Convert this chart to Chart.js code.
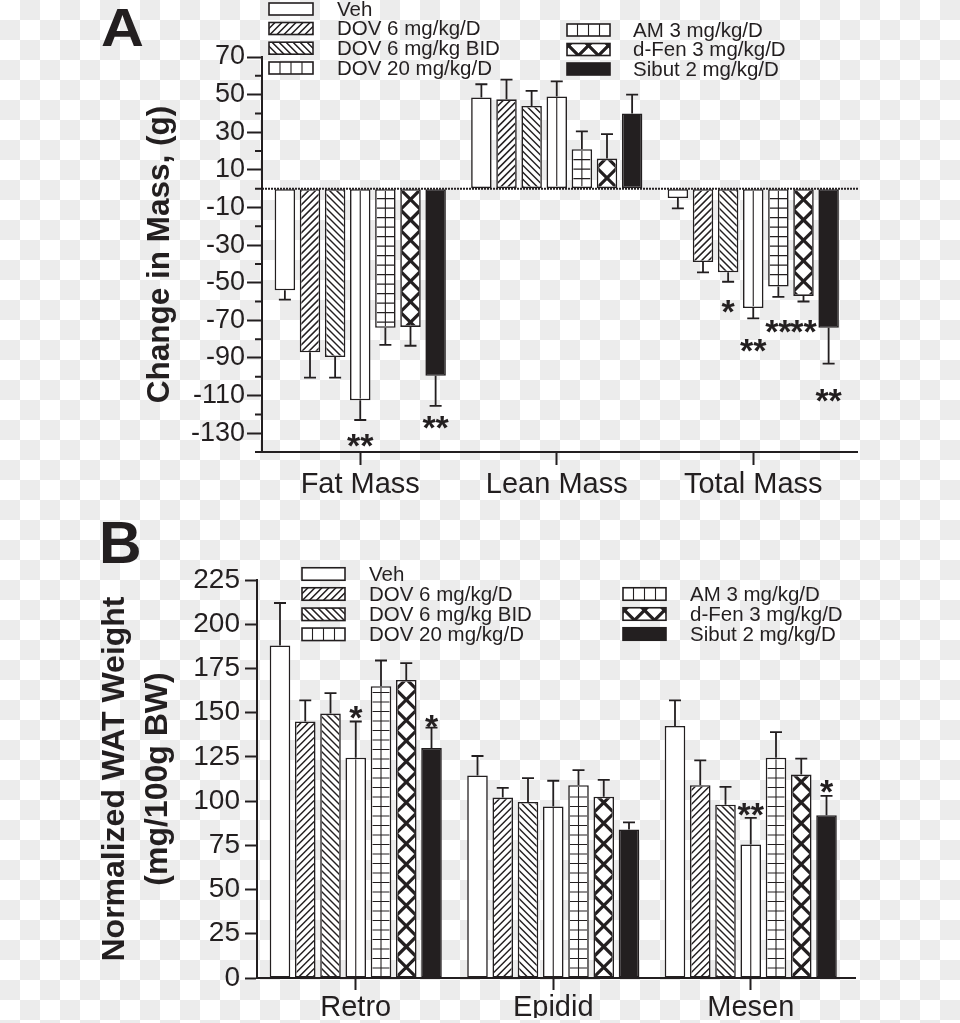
<!DOCTYPE html>
<html><head><meta charset="utf-8">
<script src="https://cdn.jsdelivr.net/npm/chart.js@4.4.1/dist/chart.umd.min.js"></script>
<style>
html,body{margin:0;padding:0;}
body{width:960px;height:1023px;position:relative;overflow:hidden;
 background: repeating-conic-gradient(#ececec 0 25%, #ffffff 0 50%) 0 0 / 40px 40px;}
canvas{position:absolute;left:0;}
#cA{top:0;} #cB{top:510px;}
.panel{position:absolute;font-family:'Liberation Sans',Arial,sans-serif;font-weight:bold;color:#231f20;line-height:1;}
</style></head><body>
<canvas id="cA" width="960" height="510"></canvas>
<canvas id="cB" width="960" height="513"></canvas>
<div class="panel" style="left:101px;top:0px;font-size:54px;transform:scaleX(1.1);transform-origin:left top;">A</div>
<div class="panel" style="left:99px;top:514px;font-size:59px">B</div>
<script>
const ink = '#231f20';
const groupLabels = ['Veh','DOV 6 mg/kg/D','DOV 6 mg/kg BID','DOV 20 mg/kg/D','AM 3 mg/kg/D','d-Fen 3 mg/kg/D','Sibut 2 mg/kg/D'];

// ---- Panel A: change in mass (g); order [Fat Mass, Lean Mass, Total Mass]
const categoriesA = ['Fat Mass','Lean Mass','Total Mass'];
const vehA    = [-54, 48.5, -5];
const dov6A   = [-87, 47.5, -39];
const dovBidA = [-89.5, 44, -44.5];
const dov20A  = [-112.5, 49, -63.5];
const amA     = [-74, 21, -52];
const dfenA   = [-73.5, 16, -57];
const sibutA  = [-99.5, 40, -74];
const errVehA    = [5, 7, 5.5];
const errDov6A   = [13.5, 10.5, 5.5];
const errDovBidA = [11, 8, 5];
const errDov20A  = [10.5, 8, 5.5];
const errAmA     = [9, 9.5, 5.5];
const errDfenA   = [10, 13, 3];
const errSibutA  = [16, 10, 19];
const yTicksA = [70, 50, 30, 10, -10, -30, -50, -70, -90, -110, -130];
// significance marks: [category, group, text, value at mark centre]
const sigA = [[0,3,'**',-132],[0,6,'**',-122],[2,2,'*',-60.8],[2,3,'**',-81.3],[2,4,'**',-71.4],[2,5,'**',-71.4],[2,6,'**',-108]];

// ---- Panel B: normalized WAT weight (mg/100g BW); order [Retro, Epidid, Mesen]
const categoriesB = ['Retro','Epidid','Mesen'];
const vehB    = [188, 114.5, 142.5];
const dov6B   = [145, 102, 109];
const dovBidB = [149.5, 99.5, 98];
const dov20B  = [124.5, 97, 75.5];
const amB     = [165, 109, 124.5];
const dfenB   = [168.5, 102.5, 115];
const sibutB  = [130, 84, 92];
const errVehB    = [24, 11, 14.5];
const errDov6B   = [12, 5.5, 14];
const errDovBidB = [11.5, 13.5, 10];
const errDov20B  = [20.5, 14.5, 15];
const errAmB     = [14.5, 8.5, 14.5];
const errDfenB   = [9.5, 9.5, 9];
const errSibutB  = [11.5, 4, 11];
const yTicksB = [0, 25, 50, 75, 100, 125, 150, 175, 200, 225];
const sigB = [[0,3,'*',152.3],[0,6,'*',147.4],[2,3,'**',97.2],[2,6,'*',110.2]];

const patternKinds = ['none','hatchUp','hatchDown','vlines','grid','cross','solid'];

Chart.defaults.font.family = "'Liberation Sans', Arial, Helvetica, sans-serif";
Chart.defaults.color = ink;

function diag(ctx, l, t, r, b, dir, step, c0, lw) {
  ctx.lineWidth = lw; ctx.beginPath();
  const cmin = dir > 0 ? l + t : l - b;
  const cmax = dir > 0 ? r + b : r - t;
  let c = c0 + Math.floor((cmin - c0) / step) * step - step;
  for (; c <= cmax + step; c += step) {
    if (dir > 0) { ctx.moveTo(c - t + 3, t - 3); ctx.lineTo(c - b - 3, b + 3); }
    else { ctx.moveTo(c + t - 3, t - 3); ctx.lineTo(c + b + 3, b + 3); }
  }
  ctx.stroke();
}
function drawFill(ctx, kind, l, t, r, b, anchorY, cx, crossStep) {
  if (r <= l || b <= t) return;
  ctx.save();
  ctx.beginPath(); ctx.rect(l, t, r - l, b - t); ctx.clip();
  ctx.strokeStyle = ink; ctx.lineCap = 'butt';
  if (kind === 'hatchUp') diag(ctx, l, t, r, b, 1, 7, cx + anchorY, 1.5);
  else if (kind === 'hatchDown') diag(ctx, l, t, r, b, -1, 7, cx - anchorY, 1.5);
  else if (kind === 'vlines' || kind === 'grid') {
    ctx.lineWidth = 1.1; ctx.beginPath();
    for (let x = cx - 55; x <= r + 1; x += 11) if (x > l + 1 && x < r - 1) { ctx.moveTo(x, t); ctx.lineTo(x, b); }
    if (kind === 'grid') {
      for (let k = -60; k <= 60; k++) { const yy = anchorY + k * 9.5; if (yy > t + 1 && yy < b - 1) { ctx.moveTo(l, yy); ctx.lineTo(r, yy); } }
    }
    ctx.stroke();
  } else if (kind === 'cross') {
    diag(ctx, l, t, r, b, 1, crossStep, (cx - crossStep / 2) + anchorY, 3.2);
    diag(ctx, l, t, r, b, -1, crossStep, (cx + crossStep / 2) - anchorY, 3.2);
  }
  ctx.restore();
}

const figPlugin = {
  id: 'fig',
  afterDatasetsDraw(chart, args, opts) {
    const ctx = chart.ctx, ys = chart.scales.y, area = chart.chartArea;
    chart.data.datasets.forEach((ds, di) => {
      const meta = chart.getDatasetMeta(di);
      meta.data.forEach((el) => {
        const p = el.getProps(['x','y','base','width'], true);
        const bw = ds.borderWidth;
        drawFill(ctx, patternKinds[di], p.x - p.width / 2 + bw, Math.min(p.y, p.base) + bw,
                 p.x + p.width / 2 - bw, Math.max(p.y, p.base) - bw, p.base, p.x, p.width);
      });
    });
    if (opts.zeroLine) {
      const y0 = ys.getPixelForValue(0);
      ctx.save(); ctx.strokeStyle = ink; ctx.lineWidth = 2; ctx.setLineDash([2, 1]);
      ctx.beginPath(); ctx.moveTo(area.left, y0); ctx.lineTo(opts.axisEnd, y0); ctx.stroke(); ctx.restore();
    }
    ctx.save(); ctx.strokeStyle = ink; ctx.lineWidth = 1.8;
    chart.data.datasets.forEach((ds, di) => {
      const meta = chart.getDatasetMeta(di);
      meta.data.forEach((el, i) => {
        const v = ds.data[i], e = ds.errors[i];
        const dir = v >= 0 ? 1 : -1;
        const x = el.x, y1 = ys.getPixelForValue(v), y2 = ys.getPixelForValue(v + dir * e);
        ctx.beginPath(); ctx.moveTo(x, y1); ctx.lineTo(x, y2);
        ctx.moveTo(x - 6, y2); ctx.lineTo(x + 6, y2); ctx.stroke();
      });
    });
    ctx.restore();
    if (opts.minorTicks) {
      ctx.save(); ctx.strokeStyle = ink; ctx.lineWidth = 2; ctx.beginPath();
      ys.ticks.forEach(t => { if (t.label === '') { const yy = ys.getPixelForValue(t.value); ctx.moveTo(area.left - 7, yy); ctx.lineTo(area.left, yy); } });
      ctx.stroke(); ctx.restore();
    }
    ctx.save(); ctx.strokeStyle = ink; ctx.lineWidth = 2; ctx.beginPath();
    ctx.moveTo(area.right - 1, area.bottom); ctx.lineTo(opts.axisEnd, area.bottom); ctx.stroke(); ctx.restore();
    ctx.save(); ctx.fillStyle = ink; ctx.textAlign = 'center'; ctx.textBaseline = 'alphabetic';
    const fs = 34; ctx.font = "bold " + fs + "px 'Liberation Sans', Arial, sans-serif";
    opts.sig.forEach(([c, g, txt, at]) => {
      const el = chart.getDatasetMeta(g).data[c];
      ctx.fillText(txt, el.x, ys.getPixelForValue(at) + 0.6 * fs);
    });
    ctx.restore();
    const L = opts.legend;
    ctx.save(); ctx.font = "20.5px 'Liberation Sans', Arial, sans-serif"; ctx.textAlign = 'left'; ctx.textBaseline = 'middle';
    L.cols.forEach(col => {
      col.items.forEach((gi, r) => {
        const cy = col.rows[r], bx = col.boxX, bw = col.boxW, bh = L.boxH;
        const top = cy - bh / 2;
        const kind = patternKinds[gi];
        ctx.fillStyle = kind === 'solid' ? ink : '#ffffff';
        ctx.fillRect(bx, top, bw, bh);
        drawFill(ctx, kind === 'grid' ? 'vlines' : kind, bx, top, bx + bw, top + bh, top + bh, bx + bw / 2, 20);
        ctx.strokeStyle = ink; ctx.lineWidth = 1.6; ctx.strokeRect(bx, top, bw, bh);
        ctx.fillStyle = ink; ctx.fillText(chart.data.datasets[gi].label, col.textX, cy + 1);
      });
    });
    ctx.restore();
  }
};

function makeDatasets(means, errs) {
  return groupLabels.map((lab, i) => ({
    label: lab, data: means[i], errors: errs[i],
    backgroundColor: patternKinds[i] === 'solid' ? ink : '#ffffff',
    borderColor: ink, borderWidth: 1.6, borderSkipped: false,
    categoryPercentage: 0.895, barPercentage: 0.815
  }));
}

function axisOpts(cfg) {
  return {
    x: {
      type: 'category', offset: true,
      grid: {display: true, drawOnChartArea: false, offset: false, tickLength: cfg.xTick, tickWidth: 2, tickColor: ink},
      border: {display: true, color: ink, width: 2},
      ticks: {font: {size: 29}, color: ink, padding: cfg.xPad, maxRotation: 0, autoSkip: false},
      afterFit: s => { s.height = cfg.xH; }
    },
    y: {
      min: cfg.min, max: cfg.max,
      ticks: {stepSize: cfg.step, autoSkip: false, font: {size: cfg.tickSize}, color: ink, padding: cfg.yPad,
              callback: v => cfg.labels.includes(Math.round(v)) ? String(Math.round(v)) : ''},
      grid: {display: true, drawOnChartArea: false, tickLength: cfg.yTick, tickWidth: 2,
             tickColor: c => (c.tick && cfg.labels.includes(Math.round(c.tick.value))) ? ink : 'rgba(0,0,0,0)'},
      border: {display: true, color: ink, width: 2},
      title: {display: true, text: cfg.title, color: ink, padding: 0, font: {size: cfg.titleSize, weight: 'bold', lineHeight: cfg.titleLH}},
      afterFit: s => { s.width = cfg.yW; }
    }
  };
}

new Chart(document.getElementById('cA'), {
  type: 'bar',
  data: {labels: categoriesA, datasets: makeDatasets([vehA, dov6A, dovBidA, dov20A, amA, dfenA, sibutA],
        [errVehA, errDov6A, errDovBidA, errDov20A, errAmA, errDfenA, errSibutA])},
  options: {
    responsive: false, animation: false,
    layout: {padding: {left: 141, right: 960 - 851.5, top: 57, bottom: 8}},
    plugins: {legend: {display: false}, tooltip: {enabled: false},
      fig: {zeroLine: true, minorTicks: true, axisEnd: 858, sig: sigA,
        legend: {boxH: 12, cols: [
          {boxX: 269, boxW: 44, textX: 337, rows: [9, 28.5, 48.2, 68], items: [0,1,2,3]},
          {boxX: 567, boxW: 43, textX: 633, rows: [30, 49.5, 69], items: [4,5,6]}]}}},
    scales: axisOpts({min: -140, max: 70, step: 10, labels: yTicksA, tickSize: 27, yTick: 15, yPad: 2, xTick: 13, xPad: 3, xH: 50,
      yW: 262 - 141, title: 'Change in Mass, (g)', titleSize: 31.5, titleLH: 1.2})
  },
  plugins: [figPlugin]
});

new Chart(document.getElementById('cB'), {
  type: 'bar',
  data: {labels: categoriesB, datasets: makeDatasets([vehB, dov6B, dovBidB, dov20B, amB, dfenB, sibutB],
        [errVehB, errDov6B, errDovBidB, errDov20B, errAmB, errDfenB, errSibutB])},
  options: {
    responsive: false, animation: false,
    layout: {padding: {left: 93.5, right: 960 - 849.5, top: 70, bottom: 5}},
    plugins: {legend: {display: false}, tooltip: {enabled: false},
      fig: {zeroLine: false, minorTicks: false, axisEnd: 856, sig: sigB,
        legend: {boxH: 12.5, cols: [
          {boxX: 302, boxW: 43, textX: 369, rows: [64, 84, 104.3, 124.3], items: [0,1,2,3]},
          {boxX: 623, boxW: 43, textX: 690, rows: [84, 104, 124], items: [4,5,6]}]}}},
    scales: axisOpts({min: 0, max: 225, step: 25, labels: yTicksB, tickSize: 28, yTick: 12, yPad: 5, xTick: 12, xPad: 1, xH: 40,
      yW: 257 - 93.5, title: ['Normalized WAT Weight', '(mg/100g BW)'], titleSize: 32, titleLH: 1.344})
  },
  plugins: [figPlugin]
});
</script>
</body></html>
